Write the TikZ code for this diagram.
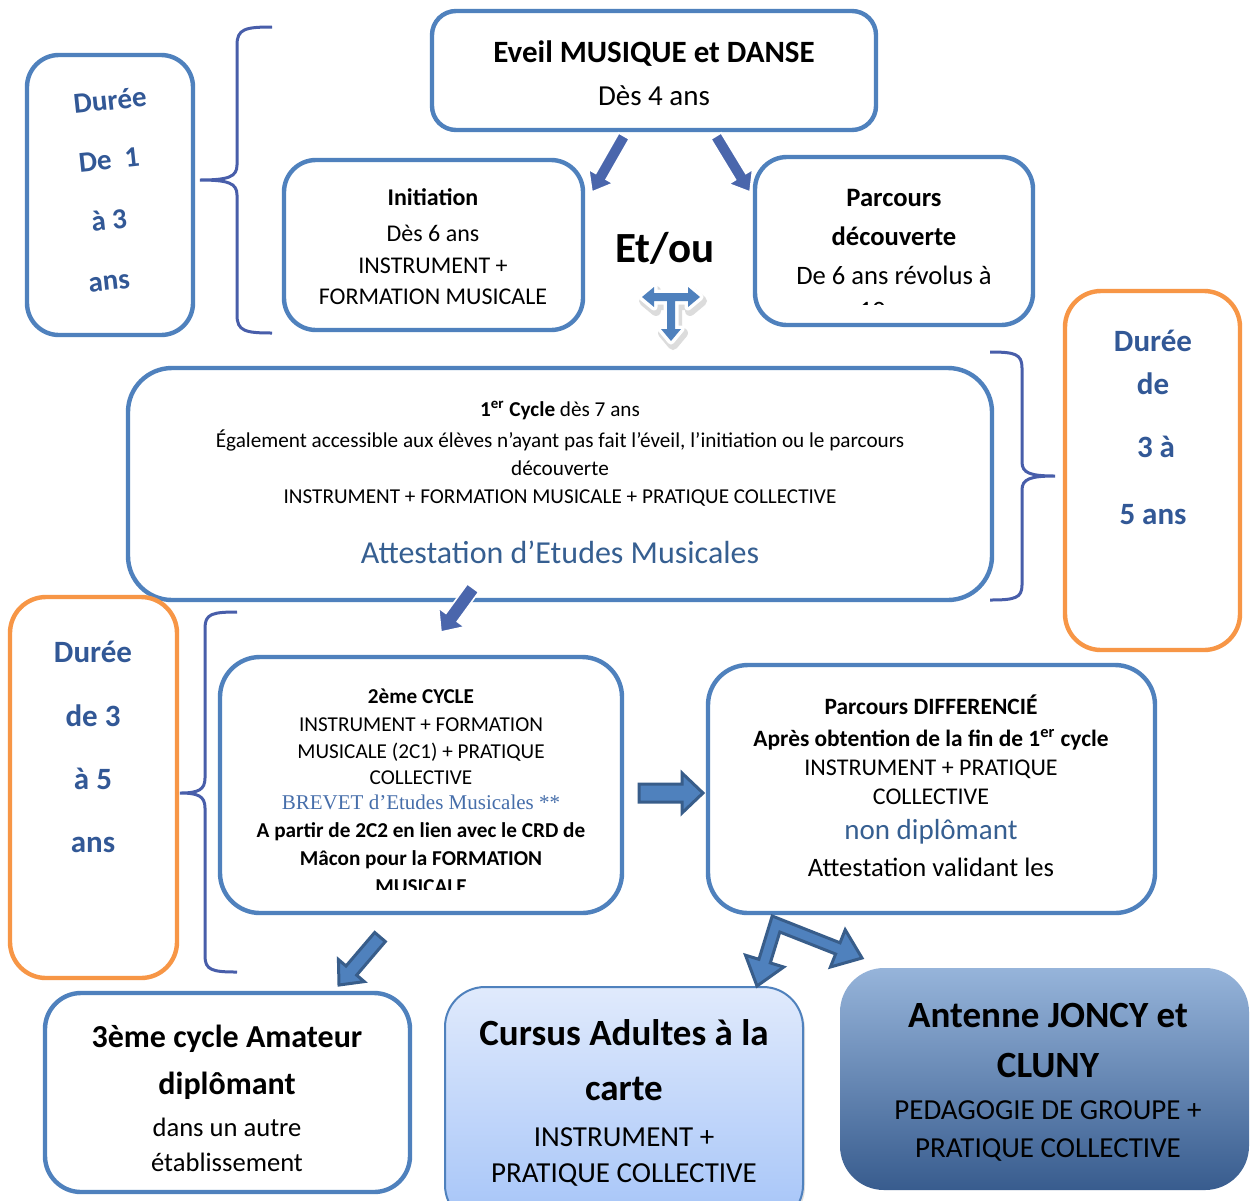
\documentclass[tikz,border=0pt]{standalone}
\usepackage{fontspec}
\setmainfont{Carlito}
\newfontfamily\serifcam{Liberation Serif}
\usetikzlibrary{calc,shadows}
\definecolor{boxblue}{RGB}{79,129,189}
\definecolor{bracecol}{RGB}{72,94,170}
\definecolor{durblue}{RGB}{50,88,150}
\definecolor{orangeb}{RGB}{247,150,70}
\definecolor{txtblue}{RGB}{54,95,145}
\definecolor{brevblue}{RGB}{70,110,170}
\definecolor{arrdark}{RGB}{74,102,172}
\definecolor{arroutline}{RGB}{56,93,138}
\definecolor{arrfill}{RGB}{79,129,189}
\definecolor{cursustop}{RGB}{224,234,252}
\definecolor{cursusbot}{RGB}{165,196,248}
\definecolor{antop}{RGB}{150,180,218}
\definecolor{anbot}{RGB}{56,92,142}
\newcommand\fs[1]{\fontsize{#1}{#1}\selectfont}
\newcommand\rbox[6][]{\node[rbox,#1,minimum width={(#5-#3)*0.5pt},minimum height={(#6-#4)*0.5pt}] (#2) at ({(#3+#5)/2},{(#4+#6)/2}) {};}
\newcommand\tline[4][]{\node[tl,#1] (#2) at (#3) {#4};}
\newcommand\blockarrow[6][]{%
 \coordinate (#2h) at ($(#3)!#6!(#2)$);
 \path[#1] ($(#2)!#4!90:(#3)$) -- ($(#2h)!#4!90:(#3)$) -- ($(#2h)!#5!90:(#3)$) -- (#3) -- ($(#2h)!#5!-90:(#3)$) -- ($(#2h)!#4!-90:(#3)$) -- ($(#2)!#4!-90:(#3)$) -- cycle;}
\begin{document}
\begin{tikzpicture}[x=0.5pt,y=-0.5pt,
  rbox/.style={draw=boxblue, line width=2.2pt, rounded corners=16pt, fill=white, inner sep=0pt, outer sep=0pt},
  tl/.style={anchor=base, inner sep=0pt, align=center},
  brace/.style={draw=bracecol, line width=1.5pt},
  solidarr/.style={fill=arrdark, draw=white, line width=0.8pt, line join=miter},
  outarr/.style={fill=arrfill, draw=arroutline, line width=1.5pt, line join=miter},
  durtxt/.style={font=\fs{15.5}\bfseries, text=durblue}]
\useasboundingbox (0,0) rectangle (1251,1200);
\clip (0,0) rectangle (1251,1200);
\fill[white] (0,0) rectangle (1251,1200);

% boxes
\rbox{durA}{27}{55}{193}{335}
\rbox[rounded corners=12pt]{eveil}{432}{11}{876}{130}
\rbox{init}{284}{160}{583}{330}
\rbox{decouv}{755}{157}{1033}{325}
\rbox[rounded corners=22pt]{cycle1}{128}{368}{992}{600}
\rbox[draw=orangeb,rounded corners=18pt]{durB}{1065}{291}{1240}{650}
\rbox[draw=orangeb,rounded corners=18pt]{durC}{10}{597}{177}{978}
\rbox[rounded corners=20pt]{cycle2}{220}{657}{622}{913}
\rbox[rounded corners=20pt]{pdiff}{708}{665}{1155}{913}
\rbox[rounded corners=18pt]{cycle3}{45}{993}{410}{1192}
\rbox[line width=1pt, rounded corners=20pt, top color=cursustop, bottom color=cursusbot, drop shadow={opacity=0.25, shadow xshift=1pt, shadow yshift=-1pt}]{cursus}{445}{987}{803}{1225}
\rbox[draw=none, rounded corners=22pt, top color=antop, bottom color=anbot]{antenne}{840}{968}{1249}{1190}

% braces
\draw[brace] (272,27) .. controls (245,27) and (237,29) .. (237,45) -- (237,165) .. controls (237,177) and (228,180) .. (200,180) .. controls (228,180) and (237,183) .. (237,195) -- (237,315) .. controls (237,331) and (245,333) .. (272,333);
\draw[brace] (990,352) .. controls (1015,352) and (1022,354) .. (1022,368) -- (1022,462) .. controls (1022,473) and (1030,476) .. (1055,476) .. controls (1030,476) and (1022,479) .. (1022,490) -- (1022,585) .. controls (1022,598) and (1015,600) .. (990,600);
\draw[brace] (237,612) .. controls (212,612) and (205,614) .. (205,628) -- (205,778) .. controls (205,790) and (198,793) .. (180,793) .. controls (198,793) and (205,796) .. (205,808) -- (205,956) .. controls (205,970) and (212,972) .. (237,972);

% texts: left blue duration
\tline[font=\fs{14.5}\bfseries, text=durblue, rotate=6]{durA1}{111,110}{Durée}
\tline[font=\fs{14.5}\bfseries, text=durblue, rotate=6]{durA2}{110,169}{De\ \ 1}
\tline[font=\fs{14.5}\bfseries, text=durblue, rotate=6]{durA3}{110,230}{à 3}
\tline[font=\fs{14.5}\bfseries, text=durblue, rotate=6]{durA4}{110,290}{ans}

% eveil
\tline[font=\fs{15.5}\bfseries]{eveil1}{654,62}{Eveil MUSIQUE et DANSE}
\tline[font=\fs{14.5}]{eveil2}{654,105}{Dès 4 ans}

% initiation
\tline[font=\fs{12}\bfseries]{init1}{433,205}{Initiation}
\tline[font=\fs{12}]{init2}{433,241}{Dès 6 ans}
\tline[font=\fs{12}]{init3}{433,273}{INSTRUMENT +}
\tline[font=\fs{12}]{init4}{433,304}{FORMATION MUSICALE}

% et/ou
\tline[font=\fs{21.5}\bfseries]{etou}{665,262}{Et/ou}

% parcours decouverte
\tline[font=\fs{13.3}\bfseries]{dec1}{894,206}{Parcours}
\tline[font=\fs{13.3}\bfseries]{dec2}{894,245}{découverte}
\tline[font=\fs{13.3}]{dec3}{894,284}{De 6 ans révolus à}
\begin{scope}
\clip (755,157) rectangle (1033,304);
\tline[font=\fs{13.3}]{dec4}{894,319}{10 ans}
\end{scope}

% cycle 1
\tline[font=\fs{10.6}]{c1a}{560,416}{\textbf{1\textsuperscript{er} Cycle} dès 7 ans}
\tline[font=\fs{10.6}]{c1b}{560,447}{Également accessible aux élèves n’ayant pas fait l’éveil, l’initiation ou le parcours}
\tline[font=\fs{10.6}]{c1c}{560,475}{découverte}
\tline[font=\fs{10.6}]{c1d}{560,503}{INSTRUMENT + FORMATION MUSICALE + PRATIQUE COLLECTIVE}
\tline[font=\fs{16}, text=txtblue]{c1e}{560,563}{Attestation d’Etudes Musicales}

% durations orange
\tline[durtxt]{durB1}{1153,351}{Durée}
\tline[durtxt]{durB2}{1153,394}{de}
\tline[durtxt]{durB3}{1156,457}{3 à}
\tline[durtxt]{durB4}{1153,524}{5 ans}
\tline[durtxt]{durC1}{93,662}{Durée}
\tline[durtxt]{durC2}{93,726}{de 3}
\tline[durtxt]{durC3}{93,789}{à 5}
\tline[durtxt]{durC4}{93,852}{ans}

% cycle 2
\tline[font=\fs{10.6}\bfseries]{c2a}{421,703}{2ème CYCLE}
\tline[font=\fs{10.6}]{c2b}{421,731}{INSTRUMENT + FORMATION}
\tline[font=\fs{10.6}]{c2c}{421,758}{MUSICALE (2C1) + PRATIQUE}
\tline[font=\fs{10.6}]{c2d}{421,784}{COLLECTIVE}
\tline[font=\fs{10.5}\serifcam, text=brevblue]{c2e}{421,809}{BREVET d’Etudes Musicales **}
\tline[font=\fs{10.6}\bfseries]{c2f}{421,837}{A partir de 2C2 en lien avec le CRD de}
\tline[font=\fs{10.6}\bfseries]{c2g}{421,865}{Mâcon pour la FORMATION}
\begin{scope}
\clip (220,657) rectangle (622,889);
\tline[font=\fs{10.6}\bfseries]{c2h}{421,893}{MUSICALE}
\end{scope}

% parcours differencie
\tline[font=\fs{11.7}\bfseries]{pd1}{931,714}{Parcours DIFFERENCIÉ}
\tline[font=\fs{11.7}\bfseries]{pd2}{931,746}{Après obtention de la fin de 1\textsuperscript{er} cycle}
\tline[font=\fs{12}]{pd3}{931,775}{INSTRUMENT + PRATIQUE}
\tline[font=\fs{12}]{pd4}{931,804}{COLLECTIVE}
\tline[font=\fs{14.5}, text=txtblue]{pd5}{931,839}{non diplômant}
\tline[font=\fs{13.3}]{pd6}{931,876}{Attestation validant les}

% cycle 3
\tline[font=\fs{16}\bfseries]{c3a}{227,1047}{3ème cycle Amateur}
\tline[font=\fs{16}\bfseries]{c3b}{227,1094}{diplômant}
\tline[font=\fs{13.3}]{c3c}{227,1136}{dans un autre}
\tline[font=\fs{13.3}]{c3d}{227,1171}{établissement}

% cursus
\tline[font=\fs{18.5}\bfseries]{cu1}{624,1045}{Cursus Adultes à la}
\tline[font=\fs{18.5}\bfseries]{cu2}{624,1100}{carte}
\tline[font=\fs{14.5}]{cu3}{624,1146}{INSTRUMENT +}
\tline[font=\fs{14.5}]{cu4}{624,1182}{PRATIQUE COLLECTIVE}

% antenne
\tline[font=\fs{18.5}\bfseries]{an1}{1048,1027}{Antenne JONCY et}
\tline[font=\fs{18.5}\bfseries]{an2}{1048,1077}{CLUNY}
\tline[font=\fs{14.5}]{an3}{1048,1119}{PEDAGOGIE DE GROUPE +}
\tline[font=\fs{14.5}]{an4}{1048,1157}{PRATIQUE COLLECTIVE}

% arrows
\coordinate (aL0) at (624,136); \coordinate (aL1) at (592,192);
\blockarrow[solidarr]{aL0}{aL1}{3pt}{7pt}{9pt}
\coordinate (aR0) at (716,136); \coordinate (aR1) at (750,192);
\blockarrow[solidarr]{aR0}{aR1}{3pt}{7pt}{9pt}
\coordinate (aM0) at (473,588); \coordinate (aM1) at (441,632);
\blockarrow[solidarr]{aM0}{aM1}{3.5pt}{8pt}{9pt}
\coordinate (aH0) at (639,793); \coordinate (aH1) at (703,793);
\blockarrow[outarr]{aH0}{aH1}{4.5pt}{10pt}{10.5pt}
\coordinate (aB0) at (380,937); \coordinate (aB1) at (339,985);
\blockarrow[outarr]{aB0}{aB1}{3.5pt}{8.5pt}{9.5pt}

% bent double arrow
\path[outarr] (757,986) -- (745.5,955.2) -- (758.9,959.3) -- (772.2,916.0) -- (840.0,942.8) -- (845.2,929.8) -- (862,958) -- (830.4,967.0) -- (835.6,954.0) -- (779.8,932.0) -- (770.3,962.9) -- (783.7,967.0) -- cycle;

% T arrow (et/ou)
\def\tarrow{(642,297) -- (654,287) -- (654,293) -- (688,293) -- (688,287) -- (700,297) -- (688,307) -- (688,301) -- (675,301) -- (675,329) -- (681,329) -- (671,341) -- (661,329) -- (667,329) -- (667,301) -- (654,301) -- (654,307) -- cycle}
\draw[gray!45, opacity=0.6, line width=5pt, line join=round, shift={(2,4)}] \tarrow;
\draw[white, line width=3.5pt, line join=round] \tarrow;
\fill[boxblue] \tarrow;
\end{tikzpicture}
\end{document}
